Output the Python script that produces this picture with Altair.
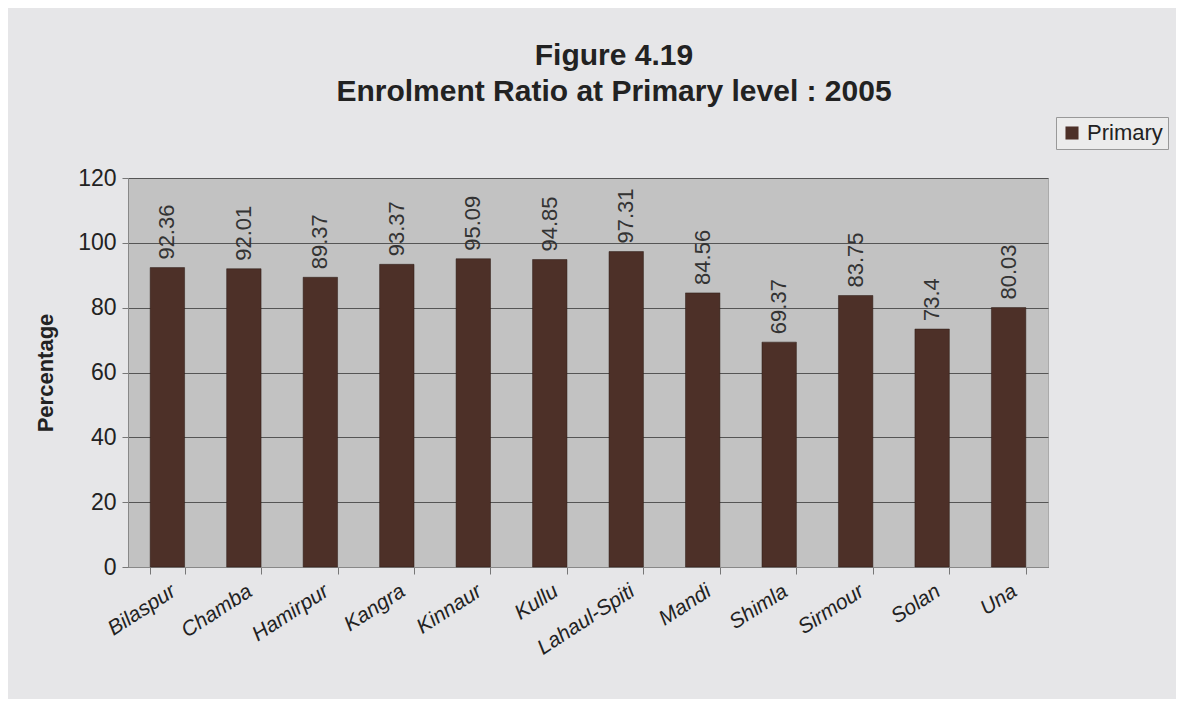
import altair as alt
import pandas as pd

districts = ["Bilaspur", "Chamba", "Hamirpur", "Kangra", "Kinnaur", "Kullu",
             "Lahaul-Spiti", "Mandi", "Shimla", "Sirmour", "Solan", "Una"]
primary = [92.36, 92.01, 89.37, 93.37, 95.09, 94.85, 97.31, 84.56, 69.37, 83.75, 73.4, 80.03]
labels = ["92.36", "92.01", "89.37", "93.37", "95.09", "94.85", "97.31", "84.56", "69.37", "83.75", "73.4", "80.03"]

df = pd.DataFrame({"District": districts, "Value": primary, "Label": labels,
                   "Series": ["Primary"] * len(districts)})

FONT = "Liberation Sans"

x = alt.X("District:N", sort=districts, title=None,
          scale=alt.Scale(paddingInner=0.55, paddingOuter=0.29),
          axis=alt.Axis(labelAngle=327, labelFontSize=21, labelColor="#222",
                        labelFontStyle="italic",
                        labelAlign="right", labelBaseline="top", labelPadding=6,
                        tickBand="extent", tickColor="#777", tickSize=7,
                        domainColor="#888", labelFont=FONT))
y = alt.Y("Value:Q", title="Percentage",
          scale=alt.Scale(domain=[0, 120], nice=False),
          axis=alt.Axis(values=[0, 20, 40, 60, 80, 100, 120], labelFontSize=23,
                        labelColor="#222", titleFontSize=22, titleFont=FONT,
                        labelFont=FONT, titleColor="#222", titlePadding=20,
                        gridColor="#555", gridWidth=1, domainColor="#888",
                        tickColor="#777", tickSize=6, labelPadding=6))

bars = alt.Chart(df).mark_bar(stroke="#2a1a14", strokeWidth=0.5).encode(
    x=x, y=y,
    color=alt.Color("Series:N",
                    scale=alt.Scale(domain=["Primary"], range=["#4d3028"]),
                    legend=alt.Legend(title=None, orient="none", legendX=928, legendY=-61,
                                      labelFontSize=22, labelFont=FONT, labelColor="#222",
                                      symbolType="square", symbolSize=170,
                                      strokeColor="#999", padding=5, fillColor="#ececec",
                                      symbolStrokeWidth=0)),
)

text = alt.Chart(df).mark_text(angle=270, align="left", baseline="middle", dx=8,
                               fontSize=22, font=FONT, color="#333").encode(
    x=alt.X("District:N", sort=districts),
    y=alt.Y("Value:Q"),
    text="Label:N",
)

chart = alt.layer(bars, text).properties(
    width=920, height=389,
    title=alt.TitleParams(["Figure 4.19", "Enrolment Ratio at Primary level : 2005"],
                          fontSize=30, font=FONT, fontWeight="bold", color="#222",
                          anchor="middle", offset=10, dx=26, lineHeight=36),
    padding={"left": 120, "top": 170, "right": 128, "bottom": 132},
    background="#e6e6e8",
    autosize=alt.AutoSizeParams(type="none"),
).configure_view(fill="#c2c2c2", stroke="#aaa")

chart.save("out.html", embed_options={"renderer": "svg", "actions": False})
